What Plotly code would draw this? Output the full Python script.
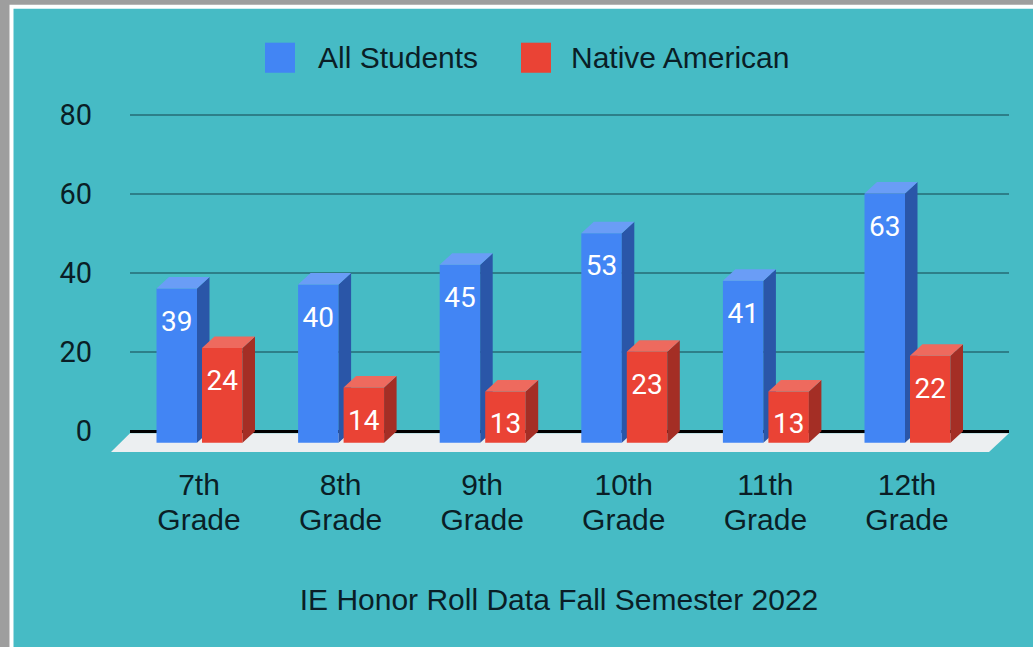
import plotly.graph_objects as go

categories = ["7th<br>Grade", "8th<br>Grade", "9th<br>Grade", "10th<br>Grade", "11th<br>Grade", "12th<br>Grade"]
all_students = [39, 40, 45, 53, 41, 63]
native_american = [24, 14, 13, 23, 13, 22]
axis_title = "IE Honor Roll Data Fall Semester 2022"

W, H = 1033, 647
PL, PR = 130, 1009          # plot area, px
PT, PB = 99.2, 466.6
Y0, PXU = 431.0, 3.95       # px of value 0, px per unit
X0, PXC = 199.0, 141.6      # px of first category, px per category
DEPTH_X = 12.5 / PXC        # depth of a bar in x units
DEPTH_Y = 11.5 / PXU        # depth of a bar in y units
BAR_W = 40.5 / PXC
BLUE_OFF = -42.5 / PXC
RED_OFF = 3.0 / PXC
LABEL_DROP = 35 / PXU
xs = list(range(len(categories)))
x_range = [(PL - X0) / PXC, (PR - X0) / PXC]
y_range = [(Y0 - PB) / PXU, (Y0 - PT) / PXU]
SANS = "Liberation Sans"
TXT = "#0A1E26"
TICK_SIZE = 30

def px_x(p): return (p - PL) / (PR - PL)
def px_y(p): return 1 - (p - PT) / (PB - PT)

def faces(values, off):
    sx, sy, tx, ty = [], [], [], []
    for i, v in zip(xs, values):
        l = i + off
        r = l + BAR_W
        front_top = v - DEPTH_Y
        front_bot = -DEPTH_Y
        sx += [r, r + DEPTH_X, r + DEPTH_X, r, r, None]
        sy += [front_top, v, 0, front_bot, front_top, None]
        tx += [l, l + DEPTH_X, r + DEPTH_X, r, l, None]
        ty += [front_top, v, v, front_top, front_top, None]
    return sx, sy, tx, ty

def add_series(fig, name, values, off, front, side, top, xa, ya):
    fig.add_trace(go.Bar(x=xs, y=values, base=-DEPTH_Y, offset=off, width=BAR_W, name=name,
                         marker=dict(color=front, line=dict(width=0)), xaxis=xa, yaxis=ya,
                         customdata=values, hovertemplate=name + ": %{customdata}<extra></extra>"))
    sx, sy, tx, ty = faces(values, off)
    for fx, fy, c in ((sx, sy, side), (tx, ty, top)):
        fig.add_trace(go.Scatter(x=fx, y=fy, mode="lines", fill="toself", fillcolor=c,
                                 line=dict(width=0, color=c), hoverinfo="skip",
                                 showlegend=False, xaxis=xa, yaxis=ya))
    fig.add_trace(go.Scatter(x=[i + off + BAR_W / 2 for i in xs],
                             y=[v - DEPTH_Y - LABEL_DROP for v in values],
                             mode="text", text=[str(v) for v in values],
                             textposition="middle center",
                             textfont=dict(family="Roboto", size=28, color="#FFFFFF"),
                             hoverinfo="skip", showlegend=False, xaxis=xa, yaxis=ya))

fig = go.Figure()
add_series(fig, "All Students", all_students, BLUE_OFF, "#4285F4", "#2A56A8", "#6A9DF6", "x", "y")
add_series(fig, "Native American", native_american, RED_OFF, "#EA4335", "#A42E25", "#EE6A5E", "x2", "y2")

def legend_rect(x0, color):
    return dict(type="rect", xref="paper", yref="paper", layer="below",
                x0=px_x(x0), x1=px_x(x0 + 30), y0=px_y(73), y1=px_y(43),
                fillcolor=color, line=dict(width=0))

def floor_path():
    return "M {a} {t} L {b} {t} L {c} {u} L {d} {u} Z".format(
        a=px_x(130), b=px_x(1009), c=px_x(989), d=px_x(111), t=px_y(433), u=px_y(451.5))

shapes = [
    dict(type="rect", xref="paper", yref="paper", layer="below", x0=px_x(0), x1=px_x(W), y0=px_y(H), y1=px_y(0),
         fillcolor="#9E9E9E", line=dict(width=0)),
    dict(type="rect", xref="paper", yref="paper", layer="below", x0=px_x(9.5), x1=px_x(W), y0=px_y(H), y1=px_y(5),
         fillcolor="#FFFFFF", line=dict(width=0)),
    dict(type="rect", xref="paper", yref="paper", layer="below", x0=px_x(13.5), x1=px_x(W), y0=px_y(H), y1=px_y(9),
         fillcolor="#46BBC5", line=dict(width=0)),
    legend_rect(265, "#4285F4"),
    legend_rect(521, "#EA4335"),
    dict(type="path", xref="paper", yref="paper", layer="below", path=floor_path(),
         fillcolor="#ECEFF1", line=dict(width=0)),
]

def legend_text(x, text):
    return dict(xref="paper", yref="paper", x=px_x(x), y=px_y(58), text=text, showarrow=False,
                xanchor="center", yanchor="middle", font=dict(family=SANS, size=TICK_SIZE, color=TXT))

def styled_tick(label):
    return "<br>".join('<span style="font-size:%dpx">%s</span>' % (TICK_SIZE, part) for part in label.split("<br>"))

fig.update_layout(
    width=W, height=H, autosize=False,
    margin=dict(l=PL, r=W - PR, t=PT, b=H - PB, pad=0),
    paper_bgcolor="#46BBC5", plot_bgcolor="rgba(0,0,0,0)",
    barmode="overlay", showlegend=False,
    title=dict(text=axis_title, x=559 / W, xanchor="center", y=1 - 599 / H, yanchor="middle",
               xref="container", yref="container", font=dict(family=SANS, size=TICK_SIZE, color=TXT)),
    shapes=shapes,
    annotations=[legend_text(397.5, "All Students"), legend_text(680, "Native American")],
    xaxis=dict(range=x_range, tickmode="array", tickvals=xs, ticktext=[styled_tick(c) for c in categories],
               showgrid=False, zeroline=False, showline=False, ticks="", ticklabelstandoff=0,
               tickfont=dict(family=SANS, size=27, color=TXT)),
    yaxis=dict(range=y_range, tickmode="array", tickvals=[0, 20, 40, 60, 80], showgrid=True,
               gridcolor="#2D7F89", gridwidth=2, zeroline=True, zerolinecolor="#000000", zerolinewidth=3,
               showline=False, ticks="", ticklabelstandoff=37,
               tickfont=dict(family="Roboto", size=29, color=TXT)),
    xaxis2=dict(range=x_range, overlaying="x", visible=False),
    yaxis2=dict(range=y_range, overlaying="y", visible=False),
)
fig.write_html("out.html", config=dict(displayModeBar=False),
               post_script="document.body.style.margin='0';document.body.style.overflow='hidden';")
